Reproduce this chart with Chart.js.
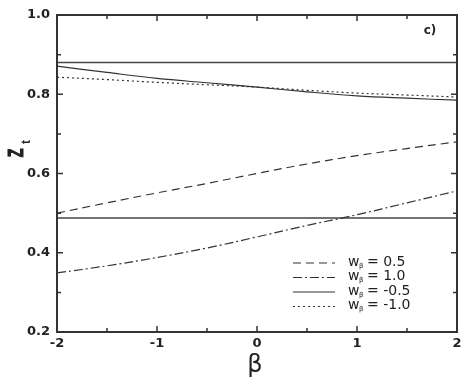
<!DOCTYPE html>
<html>
<head>
<meta charset="utf-8">
<script src="https://cdn.jsdelivr.net/npm/chart.js@4.4.1/dist/chart.umd.min.js"></script>
<style>
  html, body { margin: 0; padding: 0; background: #fff; }
  #wrap { width: 471px; height: 388px; }
</style>
</head>
<body>
<div id="wrap"><canvas id="chartZt"></canvas></div>
<script>
// valores
const betas = [-2, -1.5, -1, -0.5, 0, 0.5, 1, 1.5, 2];
const zt05 = [0.500, 0.526, 0.551, 0.575, 0.600, 0.624, 0.645, 0.663, 0.680];
const zt10 = [0.349, 0.367, 0.388, 0.412, 0.440, 0.469, 0.496, 0.526, 0.556];
const ztM05 = [0.871, 0.855, 0.840, 0.829, 0.818, 0.806, 0.796, 0.790, 0.785];
const ztM10 = [0.843, 0.837, 0.830, 0.824, 0.818, 0.810, 0.803, 0.798, 0.793];
const refLevels = [0.880, 0.488];
const legendLabels = ['0.5', '1.0', '-0.5', '-1.0'];

const lineColor = '#333';
const tickFont = { family: '"DejaVu Sans", sans-serif', size: 13, weight: 'bold' };

function serie(ys) {
    return betas.map((b, i) => ({ x: b, y: ys[i] }));
}

const datasets = [
    { data: serie(zt05), borderDash: [8, 5] },
    { data: serie(zt10), borderDash: [9, 3, 2, 3] },
    { data: serie(ztM05), borderDash: [] },
    { data: serie(ztM10), borderDash: [2, 3] }
].map(d => Object.assign(d, {
    borderColor: lineColor, borderWidth: 1.2, pointRadius: 0, tension: 0.4, fill: false
}));

refLevels.forEach(v => {
    datasets.push({
        data: [{ x: -2, y: v }, { x: 2, y: v }],
        borderColor: '#444', borderWidth: 1.5, pointRadius: 0, fill: false
    });
});

// marco, ticks hacia dentro, leyenda y titulos
const marco = {
    id: 'marco',
    afterDraw(chart) {
        const ctx = chart.ctx;
        const a = chart.chartArea;
        const xs = chart.scales.x, ys = chart.scales.y;
        ctx.save();
        ctx.strokeStyle = '#333';
        ctx.lineWidth = 2;
        ctx.strokeRect(a.left, a.top, a.right - a.left, a.bottom - a.top);

        ctx.lineWidth = 1.5;
        for (let v = -2; v <= 2.001; v += 0.5) {
            const px = xs.getPixelForValue(v);
            const len = Math.abs(v % 1) < 0.01 ? 6 : 4;
            ctx.beginPath();
            ctx.moveTo(px, a.bottom); ctx.lineTo(px, a.bottom - len);
            ctx.moveTo(px, a.top); ctx.lineTo(px, a.top + len);
            ctx.stroke();
        }
        for (let k = 2; k <= 10; k++) {
            const py = ys.getPixelForValue(k / 10);
            const len = k % 2 === 0 ? 6 : 4;
            ctx.beginPath();
            ctx.moveTo(a.left, py); ctx.lineTo(a.left + len, py);
            ctx.moveTo(a.right, py); ctx.lineTo(a.right - len, py);
            ctx.stroke();
        }

        // leyenda
        const lx0 = 293, lx1 = 335;
        chart.data.datasets.slice(0, 4).forEach((ds, i) => {
            const y = 263 + i * 14.5;
            ctx.strokeStyle = ds.borderColor;
            ctx.lineWidth = 1.2;
            ctx.setLineDash(ds.borderDash);
            ctx.beginPath();
            ctx.moveTo(lx0, y); ctx.lineTo(lx1, y);
            ctx.stroke();
            ctx.setLineDash([]);
            ctx.fillStyle = '#222';
            ctx.textBaseline = 'middle';
            ctx.textAlign = 'left';
            ctx.font = '14px "DejaVu Sans", sans-serif';
            ctx.fillText('w', 348, y - 1);
            ctx.font = '7px "DejaVu Sans", sans-serif';
            ctx.fillText('β', 359, y + 3);
            ctx.font = '14px "DejaVu Sans", sans-serif';
            ctx.fillText('= ' + legendLabels[i], 367, y - 1);
        });

        // etiqueta c)
        ctx.fillStyle = '#222';
        ctx.font = 'bold 12px "DejaVu Sans", sans-serif';
        ctx.textAlign = 'center';
        ctx.textBaseline = 'middle';
        ctx.fillText('c)', 430, 31);

        // titulo eje x
        ctx.font = '24px "DejaVu Sans", sans-serif';
        ctx.fillText('β', 255, 366);

        // titulo eje y: Z con subindice t
        ctx.translate(17, 153);
        ctx.rotate(-Math.PI / 2);
        ctx.font = 'bold 22px "Liberation Sans", Arial, sans-serif';
        ctx.save();
        ctx.scale(0.65, 1);
        ctx.strokeStyle = '#222';
        ctx.lineWidth = 1;
        ctx.fillText('Z', 0, 0);
        ctx.strokeText('Z', 0, 0);
        ctx.restore();
        ctx.font = 'bold 12px "Liberation Sans", Arial, sans-serif';
        ctx.fillText('t', 11, 10);
        ctx.restore();
    }
};

document.addEventListener('DOMContentLoaded', () => {
    const ctx = document.getElementById('chartZt').getContext('2d');
    new Chart(ctx, {
        type: 'line',
        data: { datasets: datasets },
        options: {
            responsive: true,
            maintainAspectRatio: false,
            animation: false,
            layout: { padding: { top: 15, right: 14, left: 0, bottom: 0 } },
            plugins: { legend: { display: false }, tooltip: { enabled: false } },
            scales: {
                x: {
                    type: 'linear', min: -2, max: 2,
                    grid: { display: false, drawTicks: false },
                    border: { display: false },
                    ticks: {
                        stepSize: 1, padding: 4, color: '#222', font: tickFont,
                        callback: v => String(v)
                    },
                    afterFit: s => { s.height = 56; }
                },
                y: {
                    type: 'linear', min: 0.2, max: 1.0,
                    grid: { display: false, drawTicks: false },
                    border: { display: false },
                    ticks: {
                        stepSize: 0.2, padding: 7, color: '#222', font: tickFont,
                        callback: v => v.toFixed(1)
                    },
                    afterFit: s => { s.width = 57; }
                }
            }
        },
        plugins: [marco]
    });
});
</script>
</body>
</html>
